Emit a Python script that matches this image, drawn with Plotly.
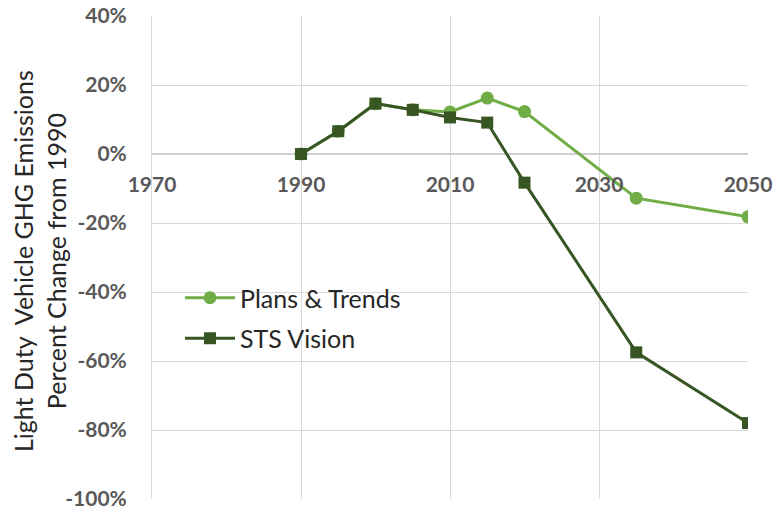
import plotly.graph_objects as go

years_pt = [1990, 1995, 2000, 2005, 2010, 2015, 2020, 2035, 2050]
plans_trends = [0, 6.6, 14.6, 12.8, 12.2, 16.2, 12.3, -12.8, -18.2]
years_sts = [1990, 1995, 2000, 2005, 2010, 2015, 2020, 2035, 2050]
sts_vision = [0, 6.6, 14.6, 12.8, 10.6, 9.1, -8.3, -57.5, -78.0]
x_ticks = [1970, 1990, 2010, 2030, 2050]
y_ticks = [40, 20, 0, -20, -40, -60, -80, -100]
y_tick_labels = ["40%", "20%", "0%", "-20%", "-40%", "-60%", "-80%", "-100%"]

LIGHT = "#70AD47"
DARK = "#375623"
FONT = "Lato, 'Open Sans', sans-serif"

W, H = 774, 509
L, R, T, B = 152, 26, 16, 10
PW = W - L - R
PH = H - T - B

fig = go.Figure()
fig.add_trace(go.Scatter(
    x=years_pt, y=plans_trends, name="Plans & Trends",
    mode="lines+markers", legendgroup="a",
    line=dict(color=LIGHT, width=3),
    marker=dict(symbol="circle", size=13, color=LIGHT),
))
fig.add_trace(go.Scatter(
    x=years_sts, y=sts_vision, name="STS Vision",
    mode="lines+markers", legendgroup="b",
    line=dict(color=DARK, width=3),
    marker=dict(symbol="square", size=12, color=DARK),
))

fig.update_layout(
    width=W, height=H,
    margin=dict(l=L, r=R, t=T, b=B, pad=0),
    paper_bgcolor="white", plot_bgcolor="white",
    font=dict(family=FONT, color="#595959"),
    showlegend=True,
    legend=dict(
        x=(180 - L) / PW, y=(H - B - 318) / PH, xanchor="left", yanchor="middle",
        bgcolor="rgba(0,0,0,0)",
        font=dict(size=25, color="#262626", family=FONT),
        itemwidth=50, tracegroupgap=5,
    ),
    xaxis=dict(
        range=[1970, 2050],
        tickvals=x_ticks,
        ticktext=[str(t) for t in x_ticks],
        showgrid=True, gridcolor="#D9D9D9", gridwidth=1,
        anchor="free", position=(0 - (-100)) / (40 - (-100)),
        showline=False, zeroline=False, automargin=False,
        ticks="", ticklabelstandoff=16, ticklabeloverflow="allow",
        tickfont=dict(size=21, color="#595959", family=FONT, weight="bold"),
    ),
    yaxis=dict(
        range=[-100, 40],
        tickvals=y_ticks, ticktext=y_tick_labels,
        showgrid=True, gridcolor="#D9D9D9", gridwidth=1,
        zeroline=True, zerolinecolor="#D0D0D0", zerolinewidth=1.5,
        showline=True, linecolor="#D9D9D9", linewidth=1,
        ticks="", ticklabelstandoff=20, automargin=False,
        ticklabeloverflow="allow",
        tickfont=dict(size=21, color="#595959", family=FONT, weight="bold"),
    ),
    annotations=[dict(
        text="Light Duty  Vehicle GHG Emissions<br>Percent Change from 1990",
        xref="paper", yref="paper",
        x=(39 - L) / PW, y=(H - B - 261) / PH,
        xanchor="center", yanchor="middle",
        textangle=-90, showarrow=False,
        font=dict(size=25, color="#262626", family=FONT),
    )],
)

fig.write_html(
    "out.html",
    config={"displayModeBar": False},
    post_script="document.body.style.margin='0';document.body.style.overflow='hidden';",
)
